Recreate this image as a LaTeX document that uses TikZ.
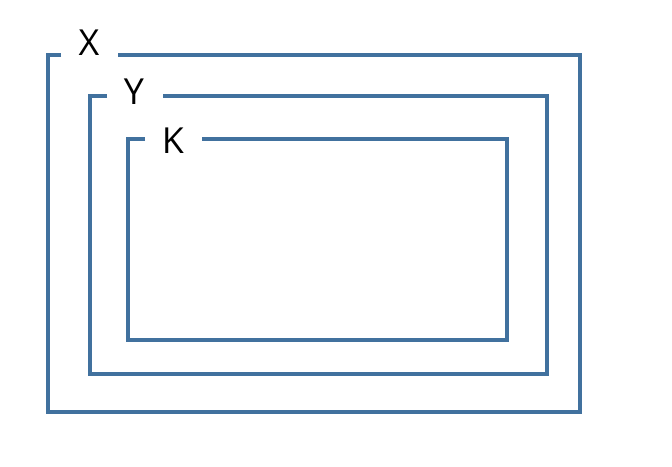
\documentclass[tikz,border=0pt]{standalone}
\usepackage{fontspec}
\setmainfont{Open Sans}
\usepackage{tikz}
\definecolor{frameblue}{RGB}{65, 113, 158}

\begin{document}
\begin{tikzpicture}[
    x=1bp, y=-1bp,
    frame/.style={draw=frameblue, line width=4.3bp},
    tag/.style={font=\fontsize{36}{36}\selectfont, text=black, inner sep=0pt}
]
\useasboundingbox (0,0) rectangle (672,467);

% labels
\node[tag] (xlab) at (89,43) {X};
\node[tag] (ylab) at (134,92) {Y};
\node[tag] (klab) at (173,141) {K};

% frames, open where the label sits
\draw[frame] (61,55) -| (48,412) -| (580,55) -- (118,55);
\draw[frame] (107,96) -| (90,374) -| (547,96) -- (163,96);
\draw[frame] (145,139) -| (128,340) -| (507,139) -- (202,139);

\end{tikzpicture}
\end{document}
